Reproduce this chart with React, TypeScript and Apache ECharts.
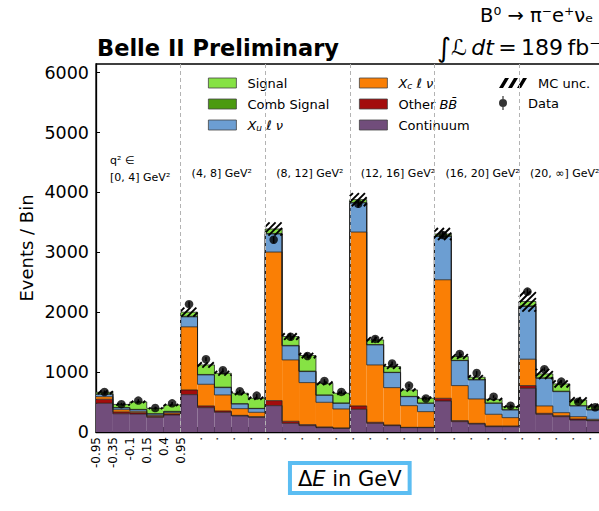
import React, { useEffect, useRef } from 'react';
import * as echarts from 'echarts';

// ---- data ----
const deltaELabels = ['-0.95', '-0.35', '-0.1', '0.15', '0.4', '0.95'];
const q2Labels = ['[0, 4] GeV²', '(4, 8] GeV²', '(8, 12] GeV²', '(12, 16] GeV²', '(16, 20] GeV²', '(20, ∞] GeV²'];
const yTicks = [0, 1000, 2000, 3000, 4000, 5000, 6000];

const continuum = [480, 305, 300, 245, 284, 624, 407, 329, 268, 245, 440, 145, 106, 73, 61, 379, 145, 106, 73, 73, 518, 173, 134, 89, 89, 730, 295, 256, 200, 189];
const otherBB = [67, 30, 23, 17, 17, 78, 28, 22, 10, 11, 84, 34, 17, 11, 6, 56, 17, 11, 5, 5, 45, 17, 11, 11, 11, 45, 17, 16, 17, 6];
const xcLnu = [43, 38, 23, 17, 22, 1054, 362, 268, 112, 73, 2481, 1025, 702, 412, 318, 2904, 958, 624, 362, 262, 1979, 585, 407, 196, 140, 441, 123, 51, 39, 17];
const xuLnu = [40, 30, 27, 22, 17, 167, 156, 122, 78, 61, 301, 234, 184, 117, 94, 485, 335, 251, 150, 139, 724, 417, 318, 183, 128, 880, 462, 351, 179, 156];
const combSignal = [5, 5, 5, 5, 5, 10, 8, 8, 5, 5, 10, 8, 8, 5, 5, 10, 5, 5, 5, 5, 10, 5, 5, 5, 5, 10, 8, 8, 5, 5];
const signal = [29, 52, 124, 90, 106, 68, 159, 232, 174, 168, 74, 148, 260, 196, 163, 46, 78, 96, 107, 79, 30, 63, 39, 62, 51, 74, 65, 121, 95, 62];
const dataCounts = [668, 465, 525, 400, 478, 2135, 1215, 1031, 680, 608, 3211, 1590, 1270, 853, 669, 3810, 1555, 1143, 775, 560, 3290, 1304, 985, 590, 440, 2345, 1048, 842, 507, 413];
const mcUnc = [30, 20, 20, 15, 18, 75, 45, 40, 30, 25, 110, 55, 45, 30, 25, 110, 45, 40, 25, 25, 100, 40, 35, 25, 20, 170, 85, 60, 45, 35];

const components = [
  { name: 'Continuum', values: continuum, color: '#714D7B' },
  { name: 'OtherBB', values: otherBB, color: '#A30C0C' },
  { name: 'Xc', values: xcLnu, color: '#FA7F05' },
  { name: 'Xu', values: xuLnu, color: '#6C9ED2' },
  { name: 'Comb Signal', values: combSignal, color: '#4B9A10' },
  { name: 'Signal', values: signal, color: '#86E244' },
];

const FONT = 'DejaVu Sans';
const EDGE = 'rgba(30,30,30,0.85)';
const NBINS = continuum.length;

// cumulative tops per component per bin
const tops: number[][] = [];
{
  const acc = new Array(NBINS).fill(0);
  components.forEach((c) => {
    const row: number[] = [];
    for (let i = 0; i < NBINS; i++) {
      acc[i] += c.values[i];
      row.push(acc[i]);
    }
    tops.push(row);
  });
}
const totals = tops[tops.length - 1];

const legendFormatter = (name: string) => {
  switch (name) {
    case 'Xu':
      return '{i|X}{s|u}{n| }{i|ℓ ν}';
    case 'Xc':
      return '{i|X}{s|c}{n| }{i|ℓ ν}';
    case 'OtherBB':
      return '{n|Other }{i|BB\u0304}';
    default:
      return '{n|' + name + '}';
  }
};

const legendText = {
  color: '#000',
  fontFamily: FONT,
  fontSize: 13,
  lineHeight: 14,
  padding: [0, 0, 0, 6],
  rich: {
    n: { fontSize: 13, lineHeight: 14, fontFamily: FONT, color: '#000' },
    i: { fontSize: 13, lineHeight: 14, fontFamily: FONT, fontStyle: 'italic', color: '#000' },
    s: { fontSize: 9, lineHeight: 8, fontFamily: FONT, fontStyle: 'italic', color: '#000', verticalAlign: 'bottom' },
  },
};

const hatchIcon = 'path://M0,10L4,10L10,0L6,0Z M9,10L13,10L19,0L15,0Z M18,10L22,10L28,0L24,0Z';
const dataIcon = 'path://M3.4,0L4.6,0L4.6,4L3.4,4Z M3.4,10L4.6,10L4.6,14L3.4,14Z M0,7A4,4 0 1 1 8,7A4,4 0 1 1 0,7Z';

export default function App() {
  const ref = useRef<HTMLDivElement>(null);

  useEffect(() => {
    if (!ref.current) return;
    const chart = echarts.init(ref.current, undefined, { renderer: 'svg' });

    const compSeries = components.map((c, k) => ({
      name: c.name,
      type: 'custom',
      z: 2,
      itemStyle: { color: c.color },
      encode: { x: 0, y: 2 },
      data: c.values.map((_, i) => [i, k === 0 ? 0 : tops[k - 1][i], tops[k][i]]),
      renderItem: (params: any, api: any) => {
        const i = api.value(0);
        const p0 = api.coord([i, api.value(1)]);
        const p1 = api.coord([i + 1, api.value(2)]);
        return {
          type: 'rect',
          shape: { x: p0[0], y: p1[1], width: p1[0] - p0[0], height: p0[1] - p1[1] },
          style: { fill: c.color, stroke: null },
        };
      },
    }));

    const outlineSeries = {
      name: 'outline',
      type: 'custom',
      z: 3,
      silent: true,
      encode: { x: 0, y: 1 },
      data: totals.map((t, i) => [i, t]),
      renderItem: (params: any, api: any) => {
        const i = api.value(0);
        const children: any[] = [];
        for (let k = 0; k < tops.length; k++) {
          const a = api.coord([i, tops[k][i]]);
          const b = api.coord([i + 1, tops[k][i]]);
          children.push({ type: 'line', shape: { x1: a[0], y1: a[1], x2: b[0], y2: b[1] }, style: { stroke: EDGE, lineWidth: 0.9 } });
          if (i > 0) {
            const c = api.coord([i, tops[k][i - 1]]);
            children.push({ type: 'line', shape: { x1: a[0], y1: a[1], x2: c[0], y2: c[1] }, style: { stroke: EDGE, lineWidth: 0.9 } });
          }
        }
        return { type: 'group', children };
      },
    };

    const hatchSeries = {
      name: 'MC unc.',
      type: 'custom',
      z: 4,
      itemStyle: { color: '#000' },
      encode: { x: 0, y: 2 },
      data: totals.map((t, i) => [i, t - mcUnc[i], t + mcUnc[i]]),
      renderItem: (params: any, api: any) => {
        const i = api.value(0);
        const a = api.coord([i, api.value(2)]);
        const b = api.coord([i + 1, api.value(1)]);
        const x0 = a[0], y0 = a[1], x1 = b[0], y1 = b[1];
        const s = 6;
        const children: any[] = [];
        for (let c = Math.ceil((x0 + y0) / s) * s; c <= x1 + y1; c += s) {
          const xa = Math.max(x0, c - y1);
          const xb = Math.min(x1, c - y0);
          if (xb - xa < 0.3) continue;
          children.push({ type: 'line', shape: { x1: xa, y1: c - xa, x2: xb, y2: c - xb }, style: { stroke: '#000', lineWidth: 1.9 } });
        }
        return { type: 'group', children };
      },
    };

    const errSeries = {
      name: 'dataErr',
      type: 'custom',
      z: 5,
      silent: true,
      encode: { x: 0, y: 2 },
      data: dataCounts.map((v, i) => [i + 0.5, v - Math.sqrt(v), v + Math.sqrt(v)]),
      renderItem: (params: any, api: any) => {
        const a = api.coord([api.value(0), api.value(1)]);
        const b = api.coord([api.value(0), api.value(2)]);
        return { type: 'line', shape: { x1: a[0], y1: a[1], x2: b[0], y2: b[1] }, style: { stroke: '#000', lineWidth: 1.5 } };
      },
    };

    const dataSeries = {
      name: 'Data',
      type: 'scatter',
      z: 6,
      symbol: 'circle',
      symbolSize: 8.5,
      itemStyle: { color: '#000' },
      data: dataCounts.map((v, i) => [i + 0.5, v]),
    };

    const groupLines = {
      name: 'groups',
      type: 'line',
      z: 1,
      data: [],
      silent: true,
      markLine: {
        silent: true,
        symbol: 'none',
        label: { show: false },
        lineStyle: { color: '#b3b3b3', type: [4, 3], width: 1 },
        data: [5, 10, 15, 20, 25].map((x) => ({ xAxis: x })),
      },
    };

    const legendBase = {
      orient: 'vertical',
      itemWidth: 28,
      itemHeight: 10,
      itemGap: 7,
      padding: 0,
      selectedMode: false,
      icon: 'rect',
      formatter: legendFormatter,
      textStyle: legendText,
      itemStyle: { borderColor: '#444', borderWidth: 0.8 },
    };

    chart.setOption({
      animation: false,
      backgroundColor: '#fff',
      textStyle: { fontFamily: FONT },
      grid: { left: 96, top: 64, width: 507.6, height: 368, show: true, borderColor: '#000', borderWidth: 1.3, backgroundColor: 'transparent' },
      xAxis: {
        type: 'value',
        min: 0,
        max: NBINS,
        interval: 1,
        name: '{n|Δ}{i|E}{n| in GeV}',
        nameLocation: 'middle',
        nameGap: 31,
        nameMoveOverlap: false,
        nameTextStyle: {
          color: '#000',
          fontSize: 21,
          borderColor: '#5BBDF2',
          borderWidth: 4,
          padding: [5, 8, 4, 8],
          rich: {
            n: { fontSize: 21, fontFamily: FONT, color: '#000' },
            i: { fontSize: 21, fontFamily: FONT, fontStyle: 'italic', color: '#000' },
          },
        },
        axisLine: { lineStyle: { color: '#000', width: 1.3 } },
        axisTick: { inside: true, length: 5, lineStyle: { color: '#000', width: 1 } },
        splitLine: { show: false },
        axisLabel: {
          rotate: 90,
          fontSize: 12,
          margin: 5,
          color: '#000',
          showMaxLabel: false,
          formatter: (v: number) => (v < deltaELabels.length ? deltaELabels[v] : '.'),
        },
      },
      yAxis: {
        type: 'value',
        min: 0,
        max: 6145,
        interval: 1000,
        name: 'Events / Bin',
        nameLocation: 'middle',
        nameGap: 61,
        nameMoveOverlap: false,
        nameTextStyle: { color: '#000', fontSize: 18 },
        axisLine: { show: true, lineStyle: { color: '#000', width: 1.3 } },
        axisTick: { show: true, inside: true, length: 4, lineStyle: { color: '#000', width: 1 } },
        splitLine: { show: false },
        axisLabel: {
          fontSize: 17.5,
          margin: 7,
          color: '#000',
          showMaxLabel: false,
          formatter: (v: number) => (yTicks.indexOf(v) >= 0 ? String(v) : ''),
        },
      },
      legend: [
        { ...legendBase, left: 208, top: 76, data: ['Signal', 'Comb Signal', 'Xu'] },
        { ...legendBase, left: 359, top: 76, data: ['Xc', 'OtherBB', 'Continuum'] },
        { ...legendBase, left: 499, top: 76, data: [{ name: 'MC unc.', icon: hatchIcon, itemStyle: { color: '#000', borderWidth: 0 } }] },
        { ...legendBase, left: 499, top: 96, itemHeight: 14, data: [{ name: 'Data', icon: dataIcon, itemStyle: { color: '#000', borderWidth: 0 } }] },
      ],
      series: [groupLines, ...compSeries, outlineSeries, hatchSeries, errSeries, dataSeries],
    });

    const gx = (i: number) => (chart.convertToPixel({ xAxisIndex: 0 }, i * 5) as number) + 11;
    const groupTexts: any[] = q2Labels.map((lab, g) => ({
      type: 'text',
      x: g === 0 ? gx(0) + 3 : gx(g),
      y: g === 0 ? 177 : 173,
      style: { text: lab, fontFamily: FONT, fontSize: 11, fill: '#000', verticalAlign: 'middle' },
    }));
    groupTexts.push({
      type: 'text',
      x: gx(0) + 3,
      y: 160,
      style: { text: 'q² ∈', fontFamily: FONT, fontSize: 11, fill: '#000', verticalAlign: 'middle' },
    });

    chart.setOption({
      graphic: [
        {
          type: 'text',
          x: 97,
          y: 48,
          style: { text: 'Belle II Preliminary', fontFamily: FONT, fontSize: 22.5, fontWeight: 'bold', fill: '#000', verticalAlign: 'middle' },
        },
        {
          type: 'text',
          x: 480,
          y: 15,
          style: { text: 'B⁰ → π⁻e⁺νₑ', fontFamily: FONT, fontSize: 19.5, fill: '#000', verticalAlign: 'middle' },
        },
        {
          type: 'text',
          x: 437,
          y: 47,
          style: {
            text: '{b|∫}{c|ℒ}{n|\u2009}{i|dt}{n|\u2009=\u2009189\u2009fb⁻¹}',
            verticalAlign: 'middle',
            rich: {
              b: { fontSize: 27, fontFamily: FONT, fill: '#000' },
              c: { fontSize: 22, fontFamily: FONT, fontStyle: 'italic', fill: '#000' },
              i: { fontSize: 22, fontFamily: FONT, fontStyle: 'italic', fill: '#000' },
              n: { fontSize: 22, fontFamily: FONT, fill: '#000' },
            },
          },
        },
        ...groupTexts,
      ],
    });

    return () => chart.dispose();
  }, []);

  return (
    <div style={{ position: 'fixed', left: 0, top: 0, width: 599, height: 511, overflow: 'hidden', background: '#fff' }}>
      <div ref={ref} style={{ width: 620, height: 511 }} />
    </div>
  );
}
